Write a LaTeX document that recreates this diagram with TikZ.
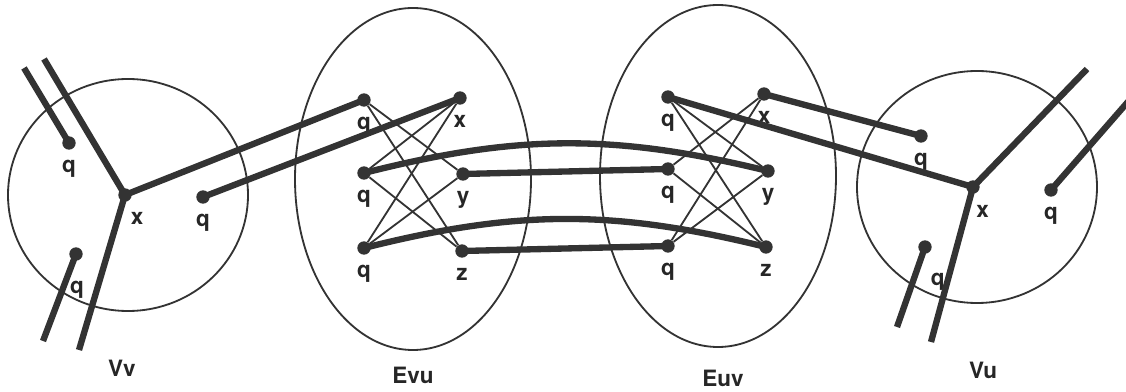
\documentclass[tikz,border=0pt]{standalone}
\usepackage{fontspec}
\setmainfont{TeX Gyre Heros}
\usetikzlibrary{arrows,shapes}
\tikzstyle{pt}=[circle,fill=black!80,inner sep=0pt,minimum size=9.5pt]
\tikzstyle{blob}=[draw=black!80,line width=1.3pt]
\tikzstyle{heavy}=[draw=black!80,line width=4.5pt]
\tikzstyle{light}=[draw=black!80,line width=1.3pt]
\tikzstyle{lbl}=[font=\fontsize{16}{18}\selectfont\bfseries,text=black!85,inner sep=0pt]

\begin{document}
\begin{tikzpicture}[x=0.025cm,y=-0.025cm,label distance=7pt,every label/.style=lbl]
\useasboundingbox (0,0) rectangle (1126,392);
\draw[blob] (128,195) ellipse (120 and 116);
\draw[blob] (413,179) ellipse (118 and 171);
\draw[blob] (718,176) ellipse (118 and 171);
\draw[blob] (977,187) ellipse (120 and 116);
\node[lbl] (Vv) at (122,368) {Vv};
\node[lbl] (Evu) at (413,375) {Evu};
\node[lbl] (Euv) at (723,378) {Euv};
\node[lbl] (Vu) at (983,370) {Vu};
% Vv
\node[pt,label={[label distance=8pt]-72:x}] (vx) at (125,195) {};
\node[pt,label=below:q] (vqa) at (69,143) {};
\node[pt,label=below:q] (vqb) at (203,197) {};
\node[pt,label={[label distance=14pt]-88:q}] (vqc) at (76,254) {};
\coordinate (va1) at (24,68); \coordinate (va2) at (44,59);
\coordinate (va3) at (79,350); \coordinate (va4) at (43,341);
% Evu
\node[pt,label=below:q] (eq1) at (364,100) {};
\node[pt,label=below:x] (ex) at (460,98) {};
\node[pt,label=below:q] (eq2) at (364,173) {};
\node[pt,label=below:y] (ey) at (463,174) {};
\node[pt,label=below:q] (eq3) at (364,248) {};
\node[pt,label=below:z] (ez) at (462,251) {};
% Euv
\node[pt,label=below:q] (fq1) at (668,97) {};
\node[pt,label=below:x] (fx) at (764,94) {};
\node[pt,label=below:q] (fq2) at (668,169) {};
\node[pt,label=below:y] (fy) at (768,171) {};
\node[pt,label=below:q] (fq3) at (668,246) {};
\node[pt,label=below:z] (fz) at (766,247) {};
% Vu
\node[pt,label={[label distance=8pt]-80:x}] (ux) at (973,187) {};
\node[pt,label=below:q] (uqa) at (921,136) {};
\node[pt,label=below:q] (uqb) at (1051,190) {};
\node[pt,label={[label distance=14pt]-78:q}] (uqc) at (925,247) {};
\coordinate (ua1) at (1087,69); \coordinate (ua2) at (1140,88);
\coordinate (ua3) at (931,342); \coordinate (ua4) at (897,327);

\draw[heavy](vqa.center)--(va1);\draw[heavy](vx.center)--(va2);\draw[heavy](vx.center)--(va3);\draw[heavy](vqc.center)--(va4);
\draw[heavy](vx.center)--(eq1.center);\draw[heavy](vqb.center)--(ex.center);
\draw[light](eq1)--(ey);\draw[light](eq1)--(ez);\draw[light](eq2)--(ex);\draw[light](eq2)--(ez);\draw[light](eq3)--(ex);\draw[light](eq3)--(ey);
\draw[heavy](eq2.center)to [bend left=14](fy.center);\draw[heavy](ey.center)--(fq2.center);
\draw[heavy](eq3.center)to [bend left=14](fz.center);\draw[heavy](ez.center)--(fq3.center);
\draw[light](fq1)--(fy);\draw[light](fq1)--(fz);\draw[light](fq2)--(fx);\draw[light](fq2)--(fz);\draw[light](fq3)--(fx);\draw[light](fq3)--(fy);
\draw[heavy](fq1.center)--(ux.center);\draw[heavy](fx.center)--(uqa.center);
\draw[heavy](ux.center)--(ua1);\draw[heavy](uqb.center)--(ua2);\draw[heavy](ux.center)--(ua3);\draw[heavy](uqc.center)--(ua4);
\end{tikzpicture}
\end{document}
